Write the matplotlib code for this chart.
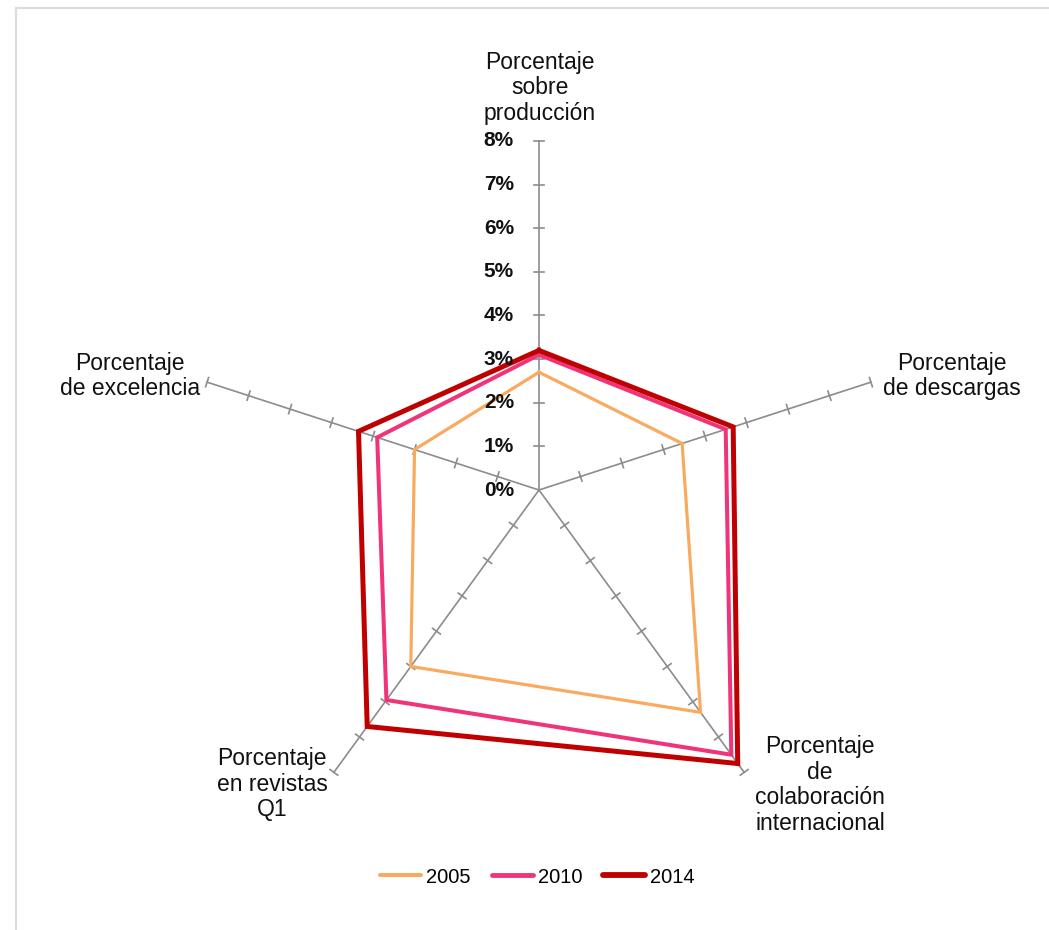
import numpy as np
import matplotlib
matplotlib.use("Agg")
import matplotlib.pyplot as plt
from matplotlib.lines import Line2D

categories = ["Porcentaje\nsobre\nproducción", "Porcentaje\nde descargas",
              "Porcentaje\nde\ncolaboración\ninternacional", "Porcentaje\nen revistas\nQ1",
              "Porcentaje\nde excelencia"]
years = ["2005", "2010", "2014"]
v2005 = [2.7, 3.45, 6.3, 5.0, 3.0]
v2010 = [3.1, 4.5, 7.5, 5.95, 3.9]
v2014 = [3.2, 4.68, 7.75, 6.7, 4.35]
tick_values = [0, 1, 2, 3, 4, 5, 6, 7, 8]
tick_labels = ["0%", "1%", "2%", "3%", "4%", "5%", "6%", "7%", "8%"]

colors = ["#F9AA5E", "#F0347A", "#C00000"]
widths = [2.3, 2.9, 3.6]

plt.rcParams['font.family'] = ['Liberation Sans', 'DejaVu Sans']

W, H = 1049, 930
fig = plt.figure(figsize=(W / 100, H / 100), dpi=100)
cx, cy, R = 539, 490, 349
ax = fig.add_axes([(cx - R) / W, (H - cy - R) / H, 2 * R / W, 2 * R / H], projection='polar')
ax.set_theta_zero_location('N')
ax.set_theta_direction(-1)
ax.set_ylim(0, 8)
ax.grid(False)
ax.spines['polar'].set_visible(False)
ax.set_xticks([])
ax.set_yticks([])
ax.patch.set_alpha(0)

n = len(categories)
angles = np.arange(n) * 2 * np.pi / n

# spokes with tick marks
h = 0.11  # half tick length in data units
for a in angles:
    ax.plot([a, a], [0, 8], color="#8C8C8C", lw=1.2, zorder=1, clip_on=False)
    for t in tick_values[1:]:
        rr = np.hypot(t, h)
        da = np.arctan2(h, t)
        ax.plot([a - da, a + da], [rr, rr], color="#8C8C8C", lw=1.2, zorder=1, clip_on=False)

for vals, c, lw in zip([v2005, v2010, v2014], colors, widths):
    th = np.concatenate([angles, angles[:1]])
    rv = np.concatenate([vals, vals[:1]])
    ax.plot(th, rv, color=c, lw=lw, zorder=3, solid_joinstyle='miter', clip_on=False)

# radial tick labels along top axis
for t, lab in zip(tick_values, tick_labels):
    ax.annotate(lab, xy=(0, t), xytext=(-18, 0), textcoords='offset points',
                ha='right', va='center', fontsize=15, fontweight='bold', color='#111111')

def px(x, y):
    return x / W, 1 - y / H

label_pos = [(540, 88), (952, 376), (820, 785), (272, 784), (130, 376)]
for lab, (x, y) in zip(categories, label_pos):
    fx, fy = px(x, y)
    fig.text(fx, fy, lab, ha='center', va='center', fontsize=16.5,
             linespacing=1.13, color='#111111')

handles = [Line2D([0], [0], color=c, lw=lw + 0.6, solid_capstyle='round') for c, lw in zip(colors, widths)]
fig.legend(handles, years, loc='center', bbox_to_anchor=px(537, 877), ncol=3,
           frameon=False, fontsize=14.5, handlelength=2.05, handletextpad=0.25,
           columnspacing=1.05)

# light frame lines (top and left)
fig.add_artist(Line2D([16 / W, 1], [1 - 8 / H, 1 - 8 / H], color='#DDDDDD', lw=1.6, transform=fig.transFigure))
fig.add_artist(Line2D([16 / W, 16 / W], [0, 1 - 8 / H], color='#DDDDDD', lw=1.6, transform=fig.transFigure))

fig.savefig("out.png", dpi=100, facecolor='white')
